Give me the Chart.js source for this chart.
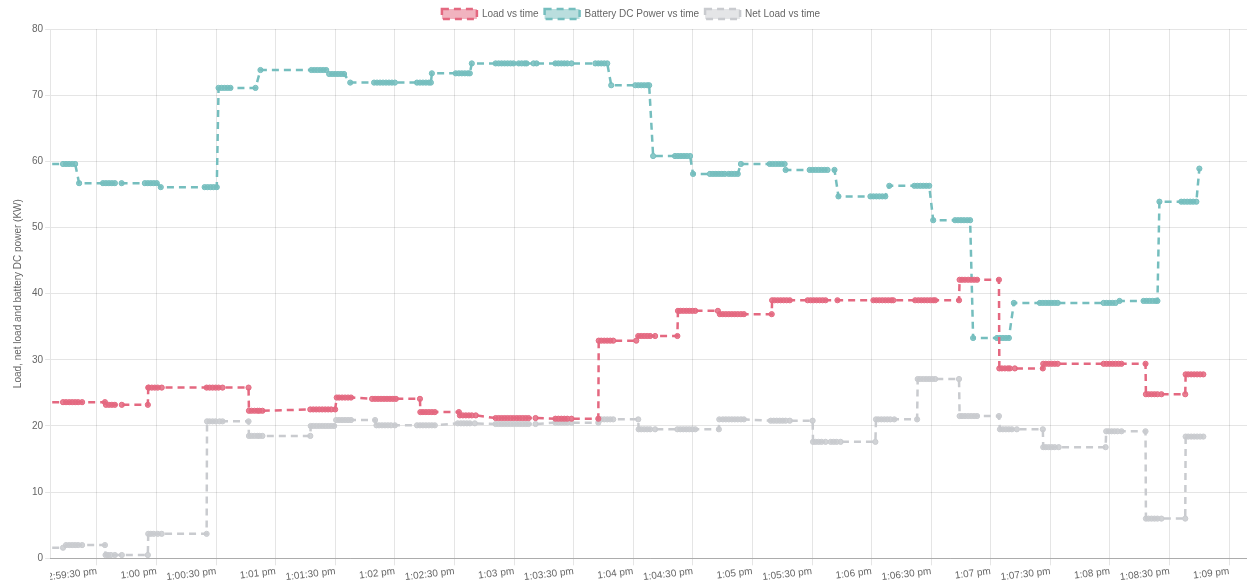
<!DOCTYPE html>
<html>
<head>
<meta charset="utf-8">
<script src="https://cdn.jsdelivr.net/npm/chart.js@4.4.1/dist/chart.umd.min.js"></script>
<style>
html,body{margin:0;padding:0;overflow:hidden;background:#fff}
#wrap{width:1255px;height:584px}
</style>
</head>
<body>
<div id="wrap"><canvas id="c" width="1255" height="584"></canvas></div>
<script>
// x values are seconds after 12:59:00 pm
const tickSeconds = [30,60,90,120,150,180,210,240,270,300,330,360,390,420,450,480,510,540,570,600];
const tickLabels = ["12:59:30 pm","1:00 pm","1:00:30 pm","1:01 pm","1:01:30 pm","1:02 pm","1:02:30 pm","1:03 pm","1:03:30 pm","1:04 pm","1:04:30 pm","1:05 pm","1:05:30 pm","1:06 pm","1:06:30 pm","1:07 pm","1:07:30 pm","1:08 pm","1:08:30 pm","1:09 pm"];
const seriesLabels = ["Load vs time","Battery DC Power vs time","Net Load vs time"];
const xMin = 6.4, xMax = 610.5;

const loadTimes = [
 1.4, 12.9, 14.4, 16.0, 17.5, 19.0, 20.5, 22.5, 34.0,
 34.5, 36.0, 37.5, 39.0, 42.5, 55.6,
 55.8, 56.1, 57.6, 59.1, 60.6, 62.6, 85.2, 86.7, 88.2, 89.7, 91.2, 93.2, 106.3,
 106.5, 107.8, 109.3, 110.8, 111.8, 113.3,
 137.4, 138.9, 140.4, 141.9, 143.4, 144.9, 146.4, 147.9, 149.9,
 150.7, 151.9, 153.4, 154.9, 156.4, 157.9,
 168.5, 170.0, 171.5, 173.0, 174.5, 176.0, 177.5, 179.0, 180.5, 192.6,
 192.8, 194.1, 195.6, 197.1, 198.6, 200.1, 212.2,
 212.7, 214.2, 215.7, 217.2, 218.7, 220.7,
 230.7, 232.2, 233.7, 235.2, 236.7, 238.2, 239.7, 241.3, 242.8, 244.3, 245.8, 247.3, 250.8,
 260.8, 262.3, 263.8, 265.3, 266.8, 268.9, 282.4,
 282.6, 283.9, 285.4, 286.9, 288.4, 289.9, 301.5,
 302.5, 304.0, 305.5, 307.0, 308.5, 311.0, 322.2,
 322.5, 323.7, 325.2, 326.7, 328.2, 329.7, 331.2, 342.6,
 343.6, 345.1, 346.6, 348.1, 349.6, 351.1, 352.6, 354.2, 355.7, 369.7,
 369.9, 371.2, 372.7, 374.2, 375.7, 377.2, 378.8, 387.8, 389.3, 390.8, 392.3, 393.8, 395.3, 396.8, 402.8, 420.9, 422.4, 423.9, 425.4, 426.9, 428.4, 429.9, 430.9, 441.9, 443.5, 445.0, 446.5, 448.0, 449.5, 451.0, 452.0, 464.0,
 464.3, 465.5, 467.0, 468.6, 470.1, 471.6, 473.1, 484.1,
 484.3, 485.6, 487.1, 488.6, 489.6, 492.1, 506.2,
 506.4, 507.7, 509.2, 510.7, 512.2, 513.7, 536.8, 538.3, 539.8, 541.3, 542.8, 544.3, 545.8, 557.9,
 558.1, 559.4, 560.9, 562.4, 563.9, 565.9, 577.9,
 578.1, 579.4, 580.9, 582.4, 583.9, 585.4, 587.0
];
const loadKW = [
 23.6, 23.6, 23.6, 23.6, 23.6, 23.6, 23.6, 23.6, 23.6,
 23.2, 23.2, 23.2, 23.2, 23.2, 23.2,
 25.8, 25.8, 25.8, 25.8, 25.8, 25.8, 25.8, 25.8, 25.8, 25.8, 25.8, 25.8, 25.8,
 22.3, 22.3, 22.3, 22.3, 22.3, 22.3,
 22.5, 22.5, 22.5, 22.5, 22.5, 22.5, 22.5, 22.5, 22.5,
 24.3, 24.3, 24.3, 24.3, 24.3, 24.3,
 24.1, 24.1, 24.1, 24.1, 24.1, 24.1, 24.1, 24.1, 24.1, 24.1,
 22.1, 22.1, 22.1, 22.1, 22.1, 22.1, 22.1,
 21.6, 21.6, 21.6, 21.6, 21.6, 21.6,
 21.2, 21.2, 21.2, 21.2, 21.2, 21.2, 21.2, 21.2, 21.2, 21.2, 21.2, 21.2, 21.2,
 21.1, 21.1, 21.1, 21.1, 21.1, 21.1, 21.1,
 32.9, 32.9, 32.9, 32.9, 32.9, 32.9, 32.9,
 33.6, 33.6, 33.6, 33.6, 33.6, 33.6, 33.6,
 37.4, 37.4, 37.4, 37.4, 37.4, 37.4, 37.4, 37.4,
 36.9, 36.9, 36.9, 36.9, 36.9, 36.9, 36.9, 36.9, 36.9, 36.9,
 39.0, 39.0, 39.0, 39.0, 39.0, 39.0, 39.0, 39.0, 39.0, 39.0, 39.0, 39.0, 39.0, 39.0, 39.0, 39.0, 39.0, 39.0, 39.0, 39.0, 39.0, 39.0, 39.0, 39.0, 39.0, 39.0, 39.0, 39.0, 39.0, 39.0, 39.0, 39.0,
 42.1, 42.1, 42.1, 42.1, 42.1, 42.1, 42.1, 42.1,
 28.7, 28.7, 28.7, 28.7, 28.7, 28.7, 28.7,
 29.4, 29.4, 29.4, 29.4, 29.4, 29.4, 29.4, 29.4, 29.4, 29.4, 29.4, 29.4, 29.4, 29.4,
 24.8, 24.8, 24.8, 24.8, 24.8, 24.8, 24.8,
 27.8, 27.8, 27.8, 27.8, 27.8, 27.8, 27.8
];

const batteryTimes = [
 1.4, 12.9, 14.4, 15.9, 17.5, 19.0,
 21.0, 33.0, 34.5, 36.0, 37.5, 39.0, 42.4, 54.1, 55.6, 57.1, 58.6, 60.1,
 62.1, 84.2, 85.7, 87.2, 88.7, 90.3,
 91.2, 92.7, 94.2, 95.7, 97.2, 109.8,
 112.3, 137.9, 139.4, 140.9, 142.4, 143.9, 145.4,
 146.9, 148.4, 149.9, 151.4, 152.9, 154.4,
 157.5, 169.5, 171.0, 172.5, 174.0, 175.5, 177.0, 178.5, 180.0, 191.1, 192.6, 194.1, 195.6, 197.1, 198.1,
 198.6, 210.6, 212.2, 213.7, 215.2, 216.7, 217.7,
 218.7, 230.7, 232.2, 233.7, 235.2, 236.7, 238.2, 239.7, 242.3, 243.8, 245.3, 246.3, 249.8, 251.3, 260.8, 262.3, 263.8, 265.3, 266.8, 268.9, 280.9, 282.4, 283.9, 285.4, 286.9,
 288.9, 301.0, 302.5, 304.0, 305.5, 307.0, 308.0,
 310.0, 321.0, 322.5, 324.0, 325.5, 327.0, 328.6,
 330.1, 338.6, 340.1, 341.6, 343.1, 344.6, 346.1, 348.1, 349.6, 351.1, 352.6,
 354.2, 368.7, 370.2, 371.7, 373.2, 374.7, 376.2,
 376.7, 388.8, 390.3, 391.8, 393.3, 394.8, 396.3, 397.8, 401.3,
 403.3, 419.4, 420.9, 422.4, 423.9, 425.4, 426.9,
 428.9, 441.5, 443.0, 444.5, 446.0, 447.5, 449.0,
 451.0, 462.0, 463.5, 465.0, 466.5, 468.1, 469.6,
 471.1, 483.1, 484.6, 486.1, 487.6, 489.1,
 491.6, 504.7, 506.2, 507.7, 509.2, 510.7, 512.2, 513.7, 536.8, 538.3, 539.8, 541.3, 542.8,
 544.8, 556.9, 558.4, 559.9, 561.4, 562.9, 563.9,
 564.9, 575.9, 577.4, 578.9, 580.4, 581.9, 583.5,
 585.0
];
const batteryKW = [
 59.6, 59.6, 59.6, 59.6, 59.6, 59.6,
 56.7, 56.7, 56.7, 56.7, 56.7, 56.7, 56.7, 56.7, 56.7, 56.7, 56.7, 56.7,
 56.1, 56.1, 56.1, 56.1, 56.1, 56.1,
 71.1, 71.1, 71.1, 71.1, 71.1, 71.1,
 73.8, 73.8, 73.8, 73.8, 73.8, 73.8, 73.8,
 73.2, 73.2, 73.2, 73.2, 73.2, 73.2,
 71.9, 71.9, 71.9, 71.9, 71.9, 71.9, 71.9, 71.9, 71.9, 71.9, 71.9, 71.9, 71.9, 71.9, 71.9,
 73.3, 73.3, 73.3, 73.3, 73.3, 73.3, 73.3,
 74.8, 74.8, 74.8, 74.8, 74.8, 74.8, 74.8, 74.8, 74.8, 74.8, 74.8, 74.8, 74.8, 74.8, 74.8, 74.8, 74.8, 74.8, 74.8, 74.8, 74.8, 74.8, 74.8, 74.8, 74.8,
 71.5, 71.5, 71.5, 71.5, 71.5, 71.5, 71.5,
 60.8, 60.8, 60.8, 60.8, 60.8, 60.8, 60.8,
 58.1, 58.1, 58.1, 58.1, 58.1, 58.1, 58.1, 58.1, 58.1, 58.1, 58.1,
 59.6, 59.6, 59.6, 59.6, 59.6, 59.6, 59.6,
 58.7, 58.7, 58.7, 58.7, 58.7, 58.7, 58.7, 58.7, 58.7,
 54.7, 54.7, 54.7, 54.7, 54.7, 54.7, 54.7,
 56.3, 56.3, 56.3, 56.3, 56.3, 56.3, 56.3,
 51.1, 51.1, 51.1, 51.1, 51.1, 51.1, 51.1,
 33.3, 33.3, 33.3, 33.3, 33.3, 33.3,
 38.6, 38.6, 38.6, 38.6, 38.6, 38.6, 38.6, 38.6, 38.6, 38.6, 38.6, 38.6, 38.6,
 38.9, 38.9, 38.9, 38.9, 38.9, 38.9, 38.9,
 53.9, 53.9, 53.9, 53.9, 53.9, 53.9, 53.9,
 58.9
];

const netLoadTimes = [
 1.4, 12.9,
 14.4, 16.0, 17.5, 19.0, 20.5, 22.5, 34.0,
 34.3, 35.5, 37.0, 39.0, 42.5, 55.6,
 55.8, 57.1, 58.6, 60.6, 62.6, 85.2,
 85.4, 86.7, 88.2, 89.7, 91.7, 93.2, 106.3,
 106.5, 107.8, 109.3, 110.8, 111.8, 113.3, 137.4,
 137.6, 138.9, 140.4, 141.9, 143.4, 144.9, 146.4, 147.9, 149.4,
 150.4, 151.9, 153.4, 154.9, 156.4, 157.9, 170.0,
 170.7, 172.0, 173.5, 175.0, 176.5, 178.0, 180.0, 191.1, 192.6, 194.1, 195.6, 197.1, 198.6, 200.1,
 211.6, 213.2, 214.7, 216.2, 217.7, 220.2,
 230.7, 232.2, 233.7, 235.2, 236.7, 238.2, 239.7, 241.3, 242.8, 244.3, 245.8, 247.3, 250.8,
 260.8, 262.3, 263.8, 265.3, 266.8, 268.9, 282.4,
 282.6, 283.9, 285.4, 286.9, 288.4, 289.9, 302.5,
 302.7, 304.0, 305.5, 307.0, 308.5, 311.0, 322.2, 323.7, 325.2, 326.7, 328.2, 329.7, 331.2, 343.1,
 343.3, 345.1, 346.6, 348.1, 349.6, 351.1, 352.6, 354.2, 355.7,
 369.2, 370.7, 372.2, 373.7, 375.2, 376.7, 378.8, 390.3,
 390.5, 391.8, 393.3, 394.8, 396.8, 399.4, 400.9, 402.4, 404.4, 421.9,
 422.2, 423.4, 424.9, 426.4, 427.9, 429.4, 431.4, 442.9,
 443.2, 444.5, 446.0, 447.5, 449.0, 450.5, 452.0, 464.0,
 464.3, 465.5, 467.0, 468.6, 470.1, 471.6, 473.1, 484.1,
 484.6, 486.1, 487.6, 489.1, 490.6, 493.1, 506.2,
 506.4, 507.7, 509.2, 510.7, 512.2, 514.2, 537.8,
 538.1, 539.3, 540.8, 542.3, 543.8, 545.8, 557.9,
 558.1, 559.4, 560.9, 562.4, 563.9, 565.9, 577.9,
 578.1, 579.4, 580.9, 582.4, 583.9, 585.4, 587.0
];
const netLoadKW = [
 1.6, 1.6,
 2.0, 2.0, 2.0, 2.0, 2.0, 2.0, 2.0,
 0.5, 0.5, 0.5, 0.5, 0.5, 0.5,
 3.7, 3.7, 3.7, 3.7, 3.7, 3.7,
 20.7, 20.7, 20.7, 20.7, 20.7, 20.7, 20.7,
 18.5, 18.5, 18.5, 18.5, 18.5, 18.5, 18.5,
 20.0, 20.0, 20.0, 20.0, 20.0, 20.0, 20.0, 20.0, 20.0,
 20.9, 20.9, 20.9, 20.9, 20.9, 20.9, 20.9,
 20.1, 20.1, 20.1, 20.1, 20.1, 20.1, 20.1, 20.1, 20.1, 20.1, 20.1, 20.1, 20.1, 20.1,
 20.4, 20.4, 20.4, 20.4, 20.4, 20.4,
 20.3, 20.3, 20.3, 20.3, 20.3, 20.3, 20.3, 20.3, 20.3, 20.3, 20.3, 20.3, 20.3,
 20.5, 20.5, 20.5, 20.5, 20.5, 20.5, 20.5,
 21.0, 21.0, 21.0, 21.0, 21.0, 21.0, 21.0,
 19.5, 19.5, 19.5, 19.5, 19.5, 19.5, 19.5, 19.5, 19.5, 19.5, 19.5, 19.5, 19.5, 19.5,
 21.0, 21.0, 21.0, 21.0, 21.0, 21.0, 21.0, 21.0, 21.0,
 20.8, 20.8, 20.8, 20.8, 20.8, 20.8, 20.8, 20.8,
 17.6, 17.6, 17.6, 17.6, 17.6, 17.6, 17.6, 17.6, 17.6, 17.6,
 21.0, 21.0, 21.0, 21.0, 21.0, 21.0, 21.0, 21.0,
 27.1, 27.1, 27.1, 27.1, 27.1, 27.1, 27.1, 27.1,
 21.5, 21.5, 21.5, 21.5, 21.5, 21.5, 21.5, 21.5,
 19.5, 19.5, 19.5, 19.5, 19.5, 19.5, 19.5,
 16.8, 16.8, 16.8, 16.8, 16.8, 16.8, 16.8,
 19.2, 19.2, 19.2, 19.2, 19.2, 19.2, 19.2,
 6.0, 6.0, 6.0, 6.0, 6.0, 6.0, 6.0,
 18.4, 18.4, 18.4, 18.4, 18.4, 18.4, 18.4
];

Chart.defaults.font.family = "'Liberation Sans', Arial, Helvetica, sans-serif";
Chart.defaults.font.size = 10;
Chart.defaults.color = '#666';

const RED = 'rgb(228,104,128)', RED_BG = 'rgba(228,104,128,0.5)', RED_PT = 'rgba(228,104,128,0.85)';
const TEAL = 'rgb(117,190,190)', TEAL_BG = 'rgba(117,190,190,0.5)', TEAL_PT = 'rgba(117,190,190,0.85)';
const GREY = 'rgb(201,203,207)', GREY_BG = 'rgba(201,203,207,0.5)', GREY_PT = 'rgba(201,203,207,0.85)';

function series(label, ts, vs, c, bg, pt) {
  const n = Math.min(ts.length, vs.length);
  const data = [];
  for (let i = 0; i < n; i++) data.push({x: ts[i], y: vs[i]});
  return {
    label, data,
    borderColor: c, backgroundColor: bg,
    pointBackgroundColor: pt, pointBorderColor: c,
    borderWidth: 2.5, borderDash: [7, 5],
    pointRadius: 2.6, pointBorderWidth: 1,
    fill: false, tension: 0
  };
}

const clipXLabels = {
  id: 'clipXLabels',
  beforeDraw(chart) {
    const xs = chart.scales.x;
    if (!xs || xs._clipPatched) return;
    const orig = xs.drawLabels;
    xs.drawLabels = function (area) {
      const ctx = this.ctx;
      ctx.save();
      ctx.beginPath();
      ctx.rect(chart.chartArea.left, this.top, chart.width, chart.height - this.top);
      ctx.clip();
      orig.call(this, area);
      ctx.restore();
    };
    xs._clipPatched = true;
  }
};

new Chart(document.getElementById('c'), {
  type: 'line',
  data: {
    datasets: [
      series(seriesLabels[0], loadTimes, loadKW, RED, RED_BG, RED_PT),
      series(seriesLabels[1], batteryTimes, batteryKW, TEAL, TEAL_BG, TEAL_PT),
      series(seriesLabels[2], netLoadTimes, netLoadKW, GREY, GREY_BG, GREY_PT)
    ]
  },
  options: {
    responsive: false,
    animation: false,
    devicePixelRatio: 1,
    events: [],
    layout: {padding: {left: 8, right: 1, top: 3, bottom: 0}},
    plugins: {
      legend: {
        position: 'top',
        labels: {boxWidth: 35, boxHeight: 10, padding: 6, color: '#666', font: {size: 10}}
      },
      tooltip: {enabled: false}
    },
    scales: {
      x: {
        type: 'linear', min: xMin, max: xMax,
        afterBuildTicks: (s) => { s.ticks = tickSeconds.map(v => ({value: v})); },
        ticks: {
          autoSkip: false, minRotation: 7, maxRotation: 7, padding: 0,
          callback: (v, i) => tickLabels[i]
        },
        grid: {color: 'rgba(0,0,0,0.1)', tickLength: 7},
        border: {color: 'rgba(0,0,0,0.25)'}
      },
      y: {
        min: 0, max: 80,
        ticks: {stepSize: 10, padding: 2},
        grid: {color: 'rgba(0,0,0,0.1)', tickLength: 5},
        border: {color: 'rgba(0,0,0,0.1)'},
        title: {display: true, text: 'Load, net load and battery DC power (KW)', color: '#666', font: {size: 10}, padding: {top: 4, bottom: 6}}
      }
    }
  },
  plugins: [clipXLabels]
});
</script>
</body>
</html>
